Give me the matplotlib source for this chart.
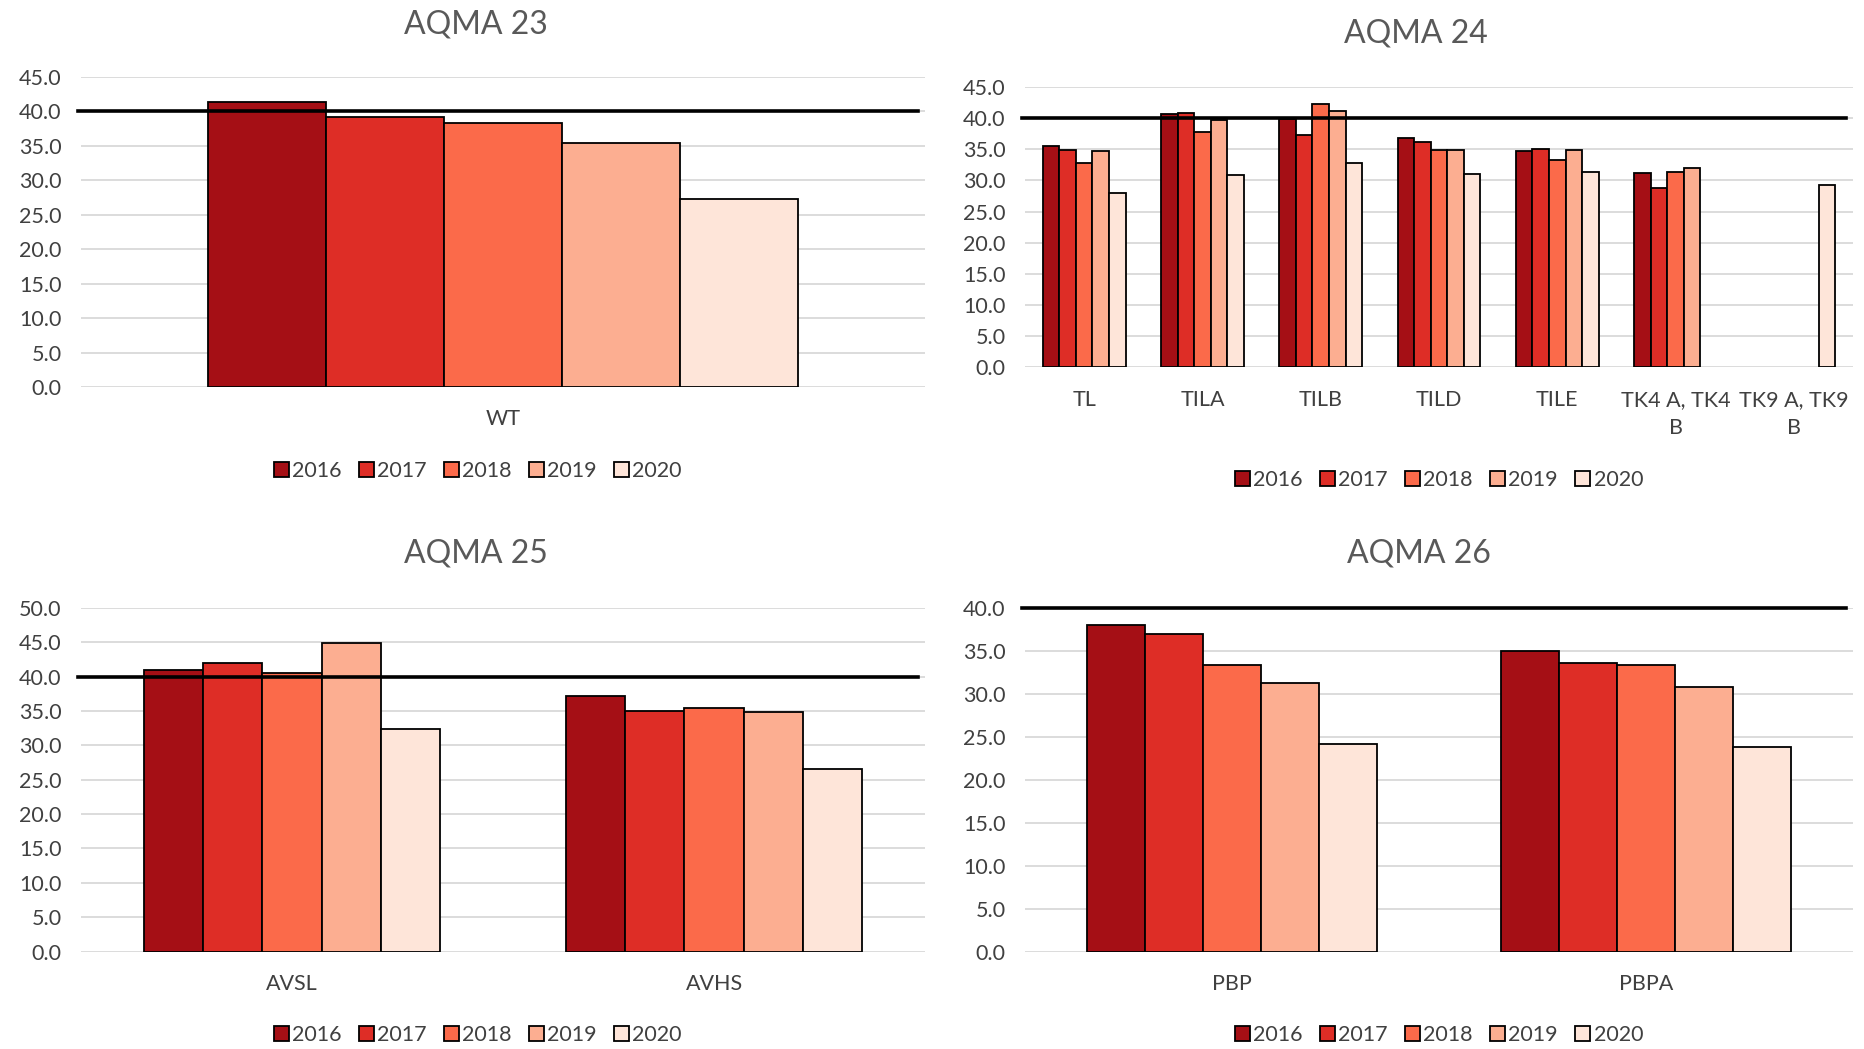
import numpy as np
import matplotlib.pyplot as plt

plt.rcParams['font.family'] = ['Lato', 'DejaVu Sans']

years = ['2016', '2017', '2018', '2019', '2020']
colors = ['#A50F15', '#DE2D26', '#FB6A4A', '#FCAE91', '#FEE5D9']
limit = 40

# AQMA 23
sites23 = ['WT']
vals23 = np.array([[41.3], [39.2], [38.3], [35.4], [27.3]])

# AQMA 24
sites24 = ['TL', 'TILA', 'TILB', 'TILD', 'TILE', 'TK4 A, TK4\nB', 'TK9 A, TK9\nB']
vals24 = np.array([
    [35.5, 40.7, 39.8, 36.8, 34.7, 31.2, np.nan],
    [34.9, 40.8, 37.2, 36.2, 35.1, 28.8, np.nan],
    [32.7, 37.8, 42.3, 34.9, 33.3, 31.3, np.nan],
    [34.7, 39.6, 41.1, 34.9, 34.9, 31.9, np.nan],
    [27.9, 30.8, 32.7, 31.0, 31.4, np.nan, 29.2],
])

# AQMA 25
sites25 = ['AVSL', 'AVHS']
vals25 = np.array([[41.0, 37.1], [42.0, 35.0], [40.5, 35.4], [44.9, 34.9], [32.3, 26.5]])

# AQMA 26
sites26 = ['PBP', 'PBPA']
vals26 = np.array([[38.0, 35.0], [37.0, 33.6], [33.3, 33.3], [31.2, 30.8], [24.1, 23.8]])

grey = '#595959'
fig = plt.figure(figsize=(18.65, 10.49), dpi=100)


def panel(rect, sites, vals, ymax, title, title_xy, leg_xy):
    ax = fig.add_axes(rect)
    x = np.arange(len(sites))
    group = 0.70
    w = group / len(years)
    for i, yr in enumerate(years):
        ax.bar(x - group / 2 + w * (i + 0.5), vals[i], w, color=colors[i],
               edgecolor='black', linewidth=1.3, label=yr, zorder=2)
    ax.axhline(limit, color='black', lw=2.6, zorder=3, xmin=-0.004, xmax=0.992, clip_on=False)
    ax.set_xlim(-0.5, len(sites) - 0.5)
    ax.set_ylim(0, ymax)
    ax.set_yticks(np.arange(0, ymax + 0.1, 5))
    ax.set_yticklabels(['%.1f' % t for t in np.arange(0, ymax + 0.1, 5)])
    ax.set_xticks(x)
    ax.set_xticklabels(sites, multialignment='center', linespacing=1.5)
    ax.tick_params(length=0, labelsize=15.5, colors='#404040')
    ax.tick_params(axis='y', pad=14)
    ax.tick_params(axis='x', pad=16)
    ax.yaxis.grid(True, color='#D9D9D9', lw=1.3)
    ax.set_axisbelow(True)
    for s in ax.spines.values():
        s.set_visible(False)
    ax.legend(loc='center', bbox_to_anchor=leg_xy, ncol=5, frameon=False,
              fontsize=15.5, handlelength=0.7, handleheight=0.7, handletextpad=0.15,
              columnspacing=0.8, labelcolor='#404040')
    fig.text(title_xy[0], title_xy[1], title, ha='center', va='center',
             fontsize=23, color=grey)
    return ax


panel([0.0434, 0.6311, 0.4526, 0.2955], sites23, vals23, 45, 'AQMA 23', (0.255, 0.977), (0.47, -0.27))
panel([0.5496, 0.6497, 0.444, 0.2676], sites24, vals24, 45, 'AQMA 24', (0.759, 0.968), (0.5, -0.40))
panel([0.0434, 0.0929, 0.4526, 0.3277], sites25, vals25, 50, 'AQMA 25', (0.255, 0.472), (0.47, -0.243))
panel([0.5496, 0.0929, 0.444, 0.3277], sites26, vals26, 40, 'AQMA 26', (0.761, 0.472), (0.5, -0.243))

plt.savefig('out.png', dpi=100)
